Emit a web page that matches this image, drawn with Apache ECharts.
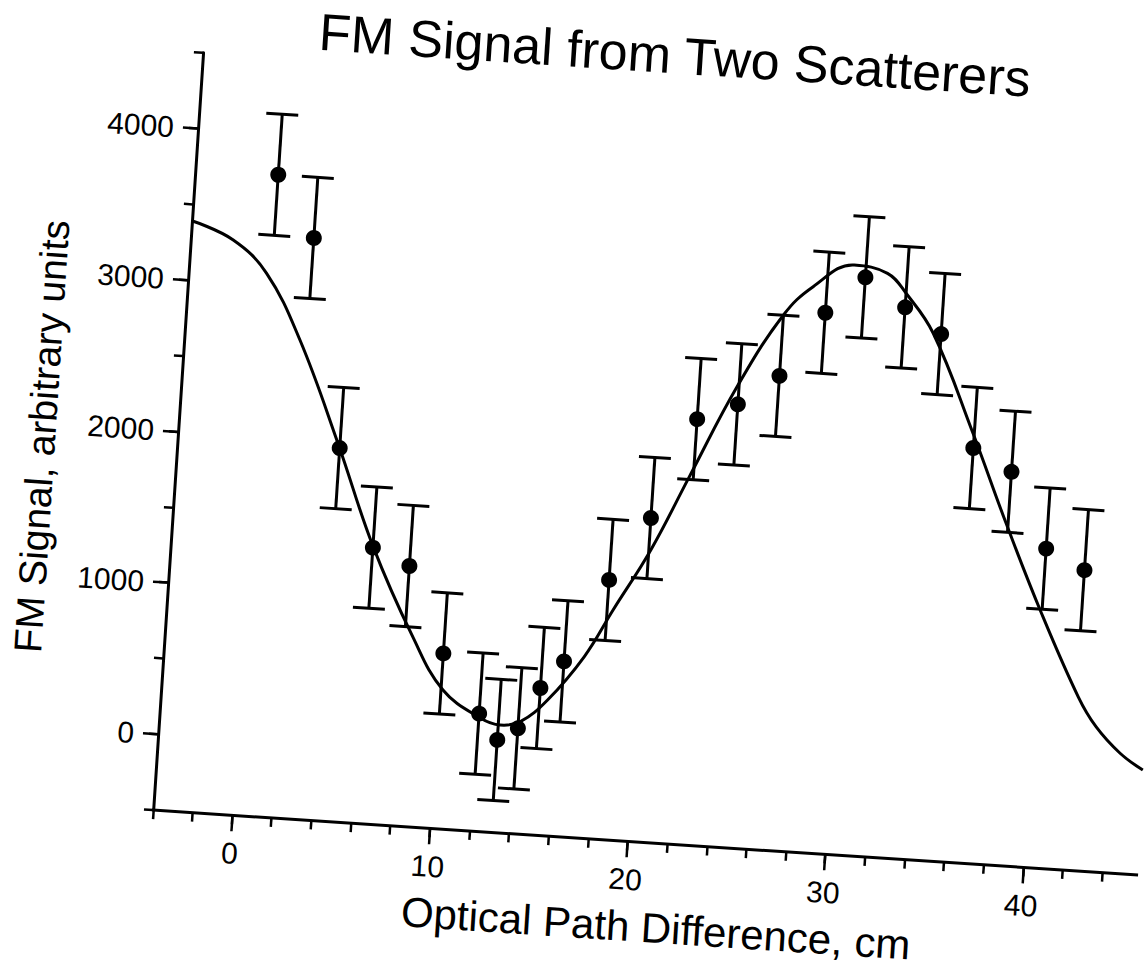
<!DOCTYPE html>
<html>
<head>
<meta charset="utf-8">
<script src="https://cdn.jsdelivr.net/npm/echarts@6/dist/echarts.min.js"></script>
<style>
  html, body { margin: 0; padding: 0; background: #fff; overflow: hidden; }
  /* the scanned figure is tilted a little clockwise */
  #main {
    width: 1145px;
    height: 974px;
    transform: rotate(3.77deg);
    transform-origin: 237.1px 739.5px;
  }
</style>
</head>
<body>
<div id="main"></div>
<script>
// measured points (cm, arbitrary units)
const pathDiff = [0.2, 2.2, 4.2, 6.2, 8.1, 10.1, 12.1, 13.1, 14.1, 15.1, 16.2, 18.2,
  20.1, 22.1, 24.1, 26.1, 28.2, 30.1, 32.2, 34.1, 36.1, 38.1, 40.1, 42.1]
const signal = [3730, 3330, 1960, 1320, 1215, 655, 275, 110, 195, 470, 655, 1210,
  1635, 2305, 2420, 2625, 3060, 3310, 3130, 2970, 2235, 2095, 1605, 1480]
const errHalf = 400

// fitted curve
const curveX = [-4, -1.85, -0.06, 1.84, 4.1, 6.2, 8.5, 10.2, 12.2, 13.2, 14.2, 15.5, 17.2, 18.5,
  20.2, 21.9, 24.0, 26.1, 27.5, 29.5, 31.2, 32.2, 33.7, 36.0, 38.0, 40.0, 42.2, 43.2, 44.5, 45.7]
const curveY = [3390, 3282, 3077, 2653, 1990, 1330, 752, 415, 245, 209, 240, 394, 694, 1014,
  1425, 1924, 2535, 3027, 3226, 3386, 3346, 3223, 2972, 2342, 1754, 1199, 646, 456, 292, 192]

// tick labels
const xMajor = [0, 10, 20, 30, 40]
const yMajor = [0, 1000, 2000, 3000, 4000]

const font = 'Liberation Sans, Arial, Helvetica, sans-serif'
const ink = '#000'

const chart = echarts.init(document.getElementById('main'), null, { renderer: 'svg' })

function renderErrorBar(params, api) {
  const x = api.value(0)
  const top = api.coord([x, api.value(2)])
  const bot = api.coord([x, api.value(1)])
  const half = 16
  const style = { stroke: ink, lineWidth: 3 }
  return {
    type: 'group',
    children: [
      { type: 'line', shape: { x1: top[0], y1: top[1], x2: bot[0], y2: bot[1] }, style },
      { type: 'line', shape: { x1: top[0] - half, y1: top[1], x2: top[0] + half, y2: top[1] }, style },
      { type: 'line', shape: { x1: bot[0] - half, y1: bot[1], x2: bot[0] + half, y2: bot[1] }, style }
    ]
  }
}

const plain = v => String(v)

const option = {
  backgroundColor: '#fff',
  animation: false,
  title: {
    text: 'FM Signal from Two Scatterers',
    left: 629,
    top: 2,
    padding: 0,
    textAlign: 'center',
    textStyle: { fontFamily: font, fontSize: 52, fontWeight: 'normal', color: ink }
  },
  grid: {
    left: 157.8,
    top: 56.4,
    width: 991,
    height: 759,
    outerBoundsMode: 'none'
  },
  xAxis: [
    {
      type: 'value',
      min: -4,
      max: 46,
      interval: 2,
      axisLine: { show: true, onZero: false, lineStyle: { color: ink, width: 3 } },
      axisTick: { length: 9, lineStyle: { color: ink, width: 2.5 } },
      axisLabel: { show: false },
      splitLine: { show: false }
    },
    {
      type: 'value',
      position: 'bottom',
      min: -4,
      max: 46,
      axisLine: { show: false, onZero: false },
      axisTick: { show: true, length: 16, customValues: xMajor, lineStyle: { color: ink, width: 2.5 } },
      axisLabel: { customValues: xMajor, formatter: plain, margin: 23, fontFamily: font, fontSize: 30, color: ink },
      splitLine: { show: false },
      name: 'Optical Path Difference, cm',
      nameLocation: 'middle',
      nameGap: 64,
      nameTextStyle: { fontFamily: font, fontSize: 42, color: ink, padding: [0, 0, 0, 28] }
    }
  ],
  yAxis: [
    {
      type: 'value',
      min: -500,
      max: 4500,
      interval: 500,
      axisLine: { show: true, onZero: false, lineStyle: { color: ink, width: 3 } },
      axisTick: { length: 9, lineStyle: { color: ink, width: 2.5 } },
      axisLabel: { show: false },
      splitLine: { show: false }
    },
    {
      type: 'value',
      position: 'left',
      min: -500,
      max: 4500,
      axisLine: { show: false, onZero: false },
      axisTick: { show: true, length: 15, customValues: yMajor, lineStyle: { color: ink, width: 2.5 } },
      axisLabel: { customValues: yMajor, formatter: plain, margin: 24, fontFamily: font, fontSize: 30, color: ink },
      splitLine: { show: false },
      name: 'FM Signal, arbitrary units',
      nameLocation: 'middle',
      nameGap: 116,
      nameTextStyle: { fontFamily: font, fontSize: 39, color: ink, padding: [0, 28, 0, 0] }
    }
  ],
  series: [
    {
      type: 'line',
      data: curveX.map((x, i) => [x, curveY[i]]),
      smooth: 0.4,
      symbol: 'none',
      lineStyle: { color: ink, width: 3 },
      z: 2
    },
    {
      type: 'custom',
      renderItem: renderErrorBar,
      encode: { x: 0, y: [1, 2] },
      data: pathDiff.map((x, i) => [x, signal[i] - errHalf, signal[i] + errHalf]),
      z: 3
    },
    {
      type: 'scatter',
      data: pathDiff.map((x, i) => [x, signal[i]]),
      symbol: 'circle',
      symbolSize: 16,
      itemStyle: { color: ink, opacity: 1 },
      z: 4
    }
  ]
}

chart.setOption(option)
</script>
</body>
</html>
